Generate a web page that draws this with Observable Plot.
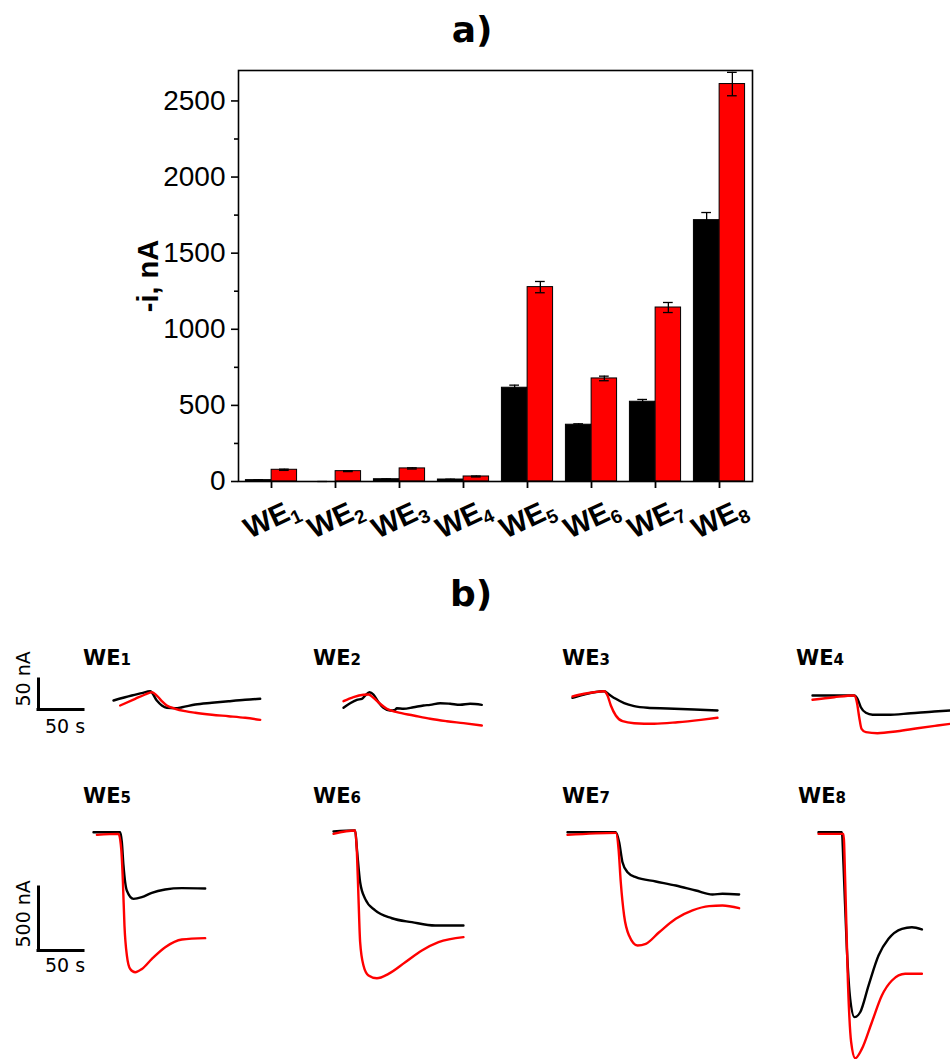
<!DOCTYPE html>
<html><head><meta charset="utf-8">
<script src="https://cdn.jsdelivr.net/npm/d3@7"></script>
<script src="https://cdn.jsdelivr.net/npm/@observablehq/plot@0.6"></script>
<style>
html,body{margin:0;padding:0;background:#fff;overflow:hidden}
#root{position:relative;width:950px;height:1059px;overflow:hidden;background:#fff}
.ttl{font-family:"DejaVu Sans",sans-serif;font-weight:bold;font-size:36px;line-height:36px;text-align:center;width:200px;color:#000}
.we{font-family:"DejaVu Sans",sans-serif;font-weight:bold;font-size:21px;line-height:21px;white-space:nowrap;color:#000}
.we span{font-size:15px}
</style></head><body><div id="root"></div>
<script>
// ---------- Panel a data ----------
const categories = ["WE1","WE2","WE3","WE4","WE5","WE6","WE7","WE8"];
const blackMean = [9, 0, 15, 13, 616, 373, 524, 1717];
const blackErr  = [2, 0, 2, 2, 17, 6, 15, 50];
const redMean   = [77, 68, 86, 33, 1277, 677, 1143, 2611];
const redErr    = [4, 3, 4, 3, 37, 15, 33, 77];
const yTicks = [0, 500, 1000, 1500, 2000, 2500];
const yMinorTicks = [250, 750, 1250, 1750, 2250];

// ---------- Panel b data: [time s, current nA] ----------
const we1Black = [[0,0],[20.3,8.3],[31.4,12.2],[40.8,15.5],[48.1,0],[53.7,-8.3],[59.2,-12.2],[68.6,-12.8],[76.1,-11.2],[90.8,-6.7],[109.3,-3.8],[127.8,-1.2],[146.3,1.2],[163,2.8]];
const we1Red   = [[7.4,-8.3],[24.1,2.8],[35.2,10],[42.6,13.8],[48.1,8.3],[53.7,-1.2],[59.2,-8.3],[68.6,-13.8],[79.7,-17.8],[90.8,-20.5],[109.3,-23.8],[127.8,-26.2],[146.3,-28.8],[163,-32.2]];
const we2Black = [[0,-12.2],[7.4,-4.5],[14.9,1.2],[20.4,2.8],[24.1,8.3],[28.9,13.8],[33.3,10],[38.9,-2.8],[44.4,-12.2],[51.9,-16.7],[57.4,-15.5],[59.3,-12.8],[66.7,-13.8],[77.8,-11.2],[88.9,-8.3],[96.3,-7.2],[107.4,-4.5],[118.5,-5.5],[129.6,-7.2],[140.7,-5.5],[153.7,-7.2]];
const we2Red   = [[0,-1.2],[11.1,5.5],[22.2,9.5],[27.8,10],[33.3,4.5],[40.7,-5.5],[48.1,-13.8],[59.3,-19.5],[77.8,-25],[96.3,-30.5],[114.8,-34.5],[133.3,-37.8],[153.7,-41.7]];
const we3Black = [[0,4.5],[12.9,10],[24.1,13.8],[35.2,15.5],[40.7,10],[48.1,2.8],[57.4,-4.5],[68.5,-9.5],[83.3,-12.2],[105.6,-13.3],[135.2,-15],[161.1,-16.7]];
const we3Red   = [[0,6.7],[12.9,11.2],[24.1,13.8],[35.2,15.5],[38.9,8.3],[42.6,-8.3],[48.1,-25],[55.6,-34.5],[68.5,-37.8],[90.7,-38.8],[116.7,-36.2],[142.6,-32.2],[161.1,-28.8]];
const we4Black = [[0,8.3],[24.1,8.3],[46.3,8.3],[50,2.8],[53.7,-11.2],[59.3,-20.5],[66.7,-23.8],[83.3,-23.8],[109.3,-21.2],[135.2,-18.3],[153.7,-16.7]];
const we4Red   = [[0,1.2],[24.1,5.5],[46.3,8.3],[49.3,-2.8],[51.9,-27.8],[54.5,-47.2],[59.3,-52.8],[72.2,-54.5],[94.4,-51.2],[116.7,-46.2],[138.9,-41.7],[153.7,-38.8]];
const we5Black = [[0,0],[29.7,0],[31.5,-79],[33.3,-264],[37,-463],[44.4,-529],[53.7,-516],[64.8,-481],[79.6,-455],[98.1,-444],[124.1,-447]];
const we5Red   = [[3.8,-21],[27.8,-13],[30.8,-132],[32.7,-397],[34.4,-741],[37.1,-979],[40.8,-1085],[46.3,-1111],[53.8,-1085],[64.9,-1005],[79.7,-913],[98.2,-852],[124.1,-841]];
const we6Black = [[0,6],[24.1,13],[26,-132],[29.6,-397],[35.2,-529],[46.3,-621],[64.8,-683],[87,-714],[112.9,-741],[144.4,-741]];
const we6Red   = [[0,-13],[24.1,13],[26,-159],[27.8,-529],[29.6,-873],[33.3,-1058],[38.9,-1137],[48.2,-1159],[61.1,-1124],[79.7,-1032],[98.2,-939],[116.7,-873],[144.4,-833]];
const we7Black = [[0,0],[53.7,0],[57.4,-79],[61.1,-238],[66.7,-317],[75.9,-357],[98.1,-391],[120.3,-423],[142.6,-463],[161.1,-494],[172.2,-489],[190.7,-494]];
const we7Red   = [[0,-21],[53.7,-5],[56.7,-132],[59.2,-397],[62.9,-661],[68.4,-820],[77.8,-899],[87,-886],[101.8,-794],[120.3,-687],[138.9,-621],[157.3,-587],[172.2,-582],[190.7,-603]];
const we8Black = [[0,0],[26,0],[27.8,-264],[31.5,-926],[35.2,-1322],[40,-1468],[46.3,-1429],[55.6,-1217],[66.7,-979],[77.8,-846],[92.7,-767],[103.8,-754],[114.9,-772]];
const we8Red   = [[0,-13],[27.8,-13],[29.7,-397],[32.7,-1190],[36.3,-1667],[40.8,-1794],[48.2,-1720],[59.3,-1508],[70.4,-1296],[81.6,-1177],[96.3,-1124],[114.9,-1124]];

const scaleBarTime = [50, 50];          // s
const scaleBarCurrent = [50, 500];      // nA
const scaleBarTimeLabel = ["50 s", "50 s"];
const scaleBarCurrentLabel = ["50 nA", "500 nA"];

// ---------- layout ----------
const root = document.getElementById("root");
function place(node, left, top) {
  node.style.position = "absolute";
  node.style.left = left + "px";
  node.style.top = top + "px";
  root.appendChild(node);
  return node;
}
function html(cls, content, left, top) {
  const d = document.createElement("div");
  d.className = cls;
  d.innerHTML = content;
  return place(d, left, top);
}

// ---------- Panel a ----------
const mL = 238, mR = 198, mT = 70, mB = 79, W = 950, H = 560;
const step = (W - mL - mR) / categories.length;
const barData = categories.map((we, i) => ({
  we, black: blackMean[i], bErr: blackErr[i], red: redMean[i], rErr: redErr[i]
}));
const capHalf = 5;
const chartA = Plot.plot({
  width: W, height: H,
  marginLeft: mL, marginRight: mR, marginTop: mT, marginBottom: mB,
  style: {fontFamily: "'Liberation Sans', Arial, sans-serif", background: "transparent", overflow: "visible", color: "#000"},
  x: {type: "band", domain: categories, padding: 0, axis: null},
  y: {domain: [0, 2700], axis: null},
  marks: [
    Plot.barY(barData, {x: "we", y: "black", fill: "#000", stroke: "#000", strokeWidth: 1, insetLeft: step * 0.1, insetRight: step * 0.5}),
    Plot.barY(barData, {x: "we", y: "red", fill: "#ff0000", stroke: "#000", strokeWidth: 1, insetLeft: step * 0.5, insetRight: step * 0.1}),
    Plot.ruleX(barData, {x: "we", y1: d => d.black - d.bErr, y2: d => d.black + d.bErr, dx: -0.2 * step, stroke: "#000", strokeWidth: 1.3}),
    Plot.tickY(barData, {x: "we", y: d => d.black + d.bErr, insetLeft: 0.3 * step - capHalf, insetRight: 0.7 * step - capHalf, stroke: "#000", strokeWidth: 1.3}),
    Plot.ruleX(barData, {x: "we", y1: d => d.red - d.rErr, y2: d => d.red + d.rErr, dx: 0.2 * step, stroke: "#000", strokeWidth: 1.3}),
    Plot.tickY(barData, {x: "we", y: d => d.red + d.rErr, insetLeft: 0.7 * step - capHalf, insetRight: 0.3 * step - capHalf, stroke: "#000", strokeWidth: 1.3}),
    Plot.tickY(barData, {x: "we", y: d => d.red - d.rErr, insetLeft: 0.7 * step - capHalf, insetRight: 0.3 * step - capHalf, stroke: "#000", strokeWidth: 1.3}),
    Plot.frame({stroke: "#000", strokeWidth: 1.6}),
    Plot.axisY({ticks: yTicks, tickSize: 7, tickPadding: 6, fontSize: 28, strokeWidth: 1.6, label: null, tickFormat: d => String(d)}),
    Plot.axisY({ticks: yMinorTicks, tickSize: 4, tickFormat: () => "", strokeWidth: 1.6, label: null}),
    Plot.axisX({tickSize: 7, tickFormat: () => "", strokeWidth: 1.8, label: null}),
    Plot.text(categories, {x: d => d, text: d => d, frameAnchor: "bottom", dy: 37, rotate: -25, textAnchor: "middle", lineAnchor: "middle", fontSize: 29, fontWeight: "bold", fill: "#000"}),
    Plot.text(["-i, nA"], {text: d => d, frameAnchor: "left", dx: -90, rotate: -90, textAnchor: "middle", lineAnchor: "middle", fontSize: 29, fontWeight: "bold", fill: "#000"})
  ]
});
// subscript digits on x labels
const NS = "http://www.w3.org/2000/svg";
chartA.querySelectorAll("text").forEach(t => {
  const m = /^WE(\d)$/.exec(t.textContent);
  if (m) {
    t.textContent = "WE";
    const ts = document.createElementNS(NS, "tspan");
    ts.setAttribute("font-size", "19");
    ts.setAttribute("dy", "6");
    ts.textContent = m[1];
    t.appendChild(ts);
  }
});
place(chartA, 0, 0);
html("ttl", "a)", 372, 12);

// ---------- Panel b ----------
html("ttl", "b)", 371, 576);
const pxPerSec = 0.9;
const rows = [
  {top: 640, height: 110, y0: 700, k: 0.6, labelTop: 648, barX: 38, barY: 709, tDy: 17},
  {top: 815, height: 244, y0: 831.7, k: 0.126, labelTop: 786, barX: 38, barY: 950, tDy: 15}
];
const panels = [
  {name: "WE", sub: "1", black: we1Black, red: we1Red, row: 0, x0: 113.3, labelX: 83},
  {name: "WE", sub: "2", black: we2Black, red: we2Red, row: 0, x0: 343.3, labelX: 313},
  {name: "WE", sub: "3", black: we3Black, red: we3Red, row: 0, x0: 571.7, labelX: 562},
  {name: "WE", sub: "4", black: we4Black, red: we4Red, row: 0, x0: 811.7, labelX: 796},
  {name: "WE", sub: "5", black: we5Black, red: we5Red, row: 1, x0: 93.3, labelX: 83},
  {name: "WE", sub: "6", black: we6Black, red: we6Red, row: 1, x0: 333.3, labelX: 313},
  {name: "WE", sub: "7", black: we7Black, red: we7Red, row: 1, x0: 566.7, labelX: 562},
  {name: "WE", sub: "8", black: we8Black, red: we8Red, row: 1, x0: 818.3, labelX: 798}
];
const PW = 200;
panels.forEach(p => {
  const r = rows[p.row];
  const chart = Plot.plot({
    width: PW, height: r.height, margin: 0,
    style: {background: "transparent", overflow: "visible"},
    x: {domain: [0, PW / pxPerSec], axis: null},
    y: {domain: [(r.y0 - r.top - r.height) / r.k, (r.y0 - r.top) / r.k], axis: null},
    marks: [
      Plot.line(p.black, {x: d => d[0], y: d => d[1], stroke: "#000", strokeWidth: 2.4, curve: "monotone-x"}),
      Plot.line(p.red, {x: d => d[0], y: d => d[1], stroke: "#ff0000", strokeWidth: 2.4, curve: "monotone-x"})
    ]
  });
  place(chart, p.x0, r.top);
  html("we", p.name + "<span>" + p.sub + "</span>", p.labelX, r.labelTop);
});

// scale bars
rows.forEach((r, i) => {
  const bw = 120, bh = 120, oy = 100;
  const bar = {dt: scaleBarTime[i], di: scaleBarCurrent[i], tl: scaleBarTimeLabel[i], il: scaleBarCurrentLabel[i]};
  const chart = Plot.plot({
    width: bw, height: bh, margin: 0,
    style: {background: "transparent", overflow: "visible", fontFamily: "'DejaVu Sans', sans-serif"},
    x: {domain: [-r.barX / pxPerSec, (bw - r.barX) / pxPerSec], axis: null},
    y: {domain: [(oy - bh) / r.k, oy / r.k], axis: null},
    marks: [
      Plot.ruleX([bar], {x: 0, y1: 0, y2: d => d.di, stroke: "#000", strokeWidth: 3, strokeLinecap: "square"}),
      Plot.ruleY([bar], {y: 0, x1: 0, x2: d => d.dt, stroke: "#000", strokeWidth: 3, strokeLinecap: "square"}),
      Plot.text([bar], {x: 0, y: 0, text: d => d.il, rotate: -90, textAnchor: "start", dx: -15, dy: -3, fontSize: 19, fill: "#000"}),
      Plot.text([bar], {x: d => d.dt / 2, y: 0, text: d => d.tl, dx: 4, dy: r.tDy, fontSize: 19, fill: "#000"})
    ]
  });
  place(chart, 0, r.barY - oy);
});
</script></body></html>
